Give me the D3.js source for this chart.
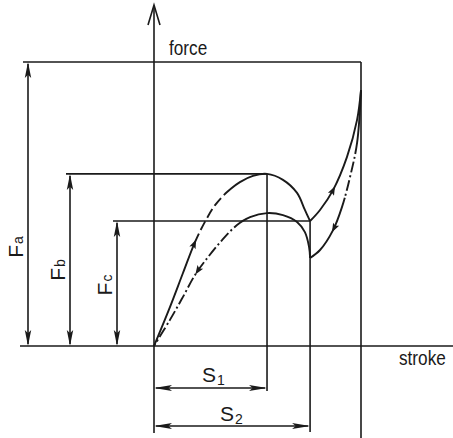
<!DOCTYPE html>
<html>
<head>
<meta charset="utf-8">
<script src="https://cdn.jsdelivr.net/npm/d3@7"></script>
<style>
  body { margin: 0; background: #fff; }
  svg { display: block; background: #fff; }
  text { font-family: "Liberation Sans", Arial, Helvetica, sans-serif; fill: #1a1a1a; }
</style>
</head>
<body>
<div id="chart"></div>
<script>
// stroke marks, in % of full stroke
const strokeLabels = ['S1', 'S2'];
const strokeValues = [54.6, 75.4];
const strokeMax = 100;

// force marks, in % of Fa
const forceLabels = ['Fa', 'Fb', 'Fc'];
const forceValues = [100, 60.6, 44.0];

// loading curve: rise to peak Fb at S1, drop to Fc at S2
const loadRise = [[0,0],[7.7,13.7],[14.0,25.7],[19.8,36.6],[24.6,43.7],[29.5,49.6],[35.3,54.2],
  [41.5,57.7],[47.8,59.9],[54.6,60.6],[62.3,58.5],[69.1,53.9],[72.9,47.9],[75.4,44.0]];
// loading curve after S2, up to the end stop
const loadEnd = [[75.4,44.0],[80.2,47.9],[86.5,54.9],[93.2,66.5],[98.1,79.6],[100,90.1]];
// unloading curve: from the end stop down to S2
const unloadEnd = [[100,90.1],[98.1,71.5],[94.7,59.5],[90.8,48.9],[86.5,40.8],[80.2,33.8],[75.4,31.0]];
// unloading curve: from S2 back over the lower peak to zero
const unloadBack = [[75.4,31.0],[74.9,34.9],[72.9,40.1],[69.1,43.7],[62.3,46.1],[54.6,46.8],[46.4,45.4],
  [40.1,42.6],[32.9,37.3],[26.1,31.3],[19.8,25.0],[14.0,17.3],[7.7,9.2],[0,0]];

const W = 453, H = 438;
const ink = '#1a1a1a';

const svg = d3.select('#chart').append('svg')
  .attr('width', W)
  .attr('height', H);

const x = d3.scaleLinear().domain([0, strokeMax]).range([154, 361]);
const y = d3.scaleLinear().domain([0, 100]).range([346, 62]);

const [S1, S2] = strokeValues;
const [Fa, Fb, Fc] = forceValues;

function hline(yy, x1, x2) {
  svg.append('line').attr('x1', x1).attr('x2', x2).attr('y1', yy).attr('y2', yy)
    .attr('stroke', ink).attr('stroke-width', 1.6);
}
function vline(xx, y1, y2) {
  svg.append('line').attr('x1', xx).attr('x2', xx).attr('y1', y1).attr('y2', y2)
    .attr('stroke', ink).attr('stroke-width', 1.6);
}

// arrow head, tip at (px,py) pointing along angle a
function head(px, py, a, len, hw) {
  svg.append('path')
    .attr('d', `M0,0 L${-len},${-hw} L${-len * 0.8},0 L${-len},${hw} Z`)
    .attr('transform', `translate(${px},${py}) rotate(${a * 180 / Math.PI})`)
    .attr('fill', ink);
}

// frame and extension lines
hline(y(0), 20, W);
hline(y(Fa), 23, x(strokeMax));
hline(y(Fb), 66, x(S1));
hline(y(Fc), 113, x(S2));
vline(x(strokeMax), y(Fa), H);
vline(x(S1), y(Fb), 391);
vline(x(S2), y(Fc), 432);
vline(x(0), 433, 6);

// force axis arrow (open)
svg.append('path')
  .attr('d', `M${x(0) - 6},25 L${x(0)},5 L${x(0) + 6},25`)
  .attr('fill', 'none').attr('stroke', ink).attr('stroke-width', 1.6);

// force dimension lines
const forceDimX = [28, 70, 117];
forceValues.forEach((f, i) => {
  const xx = forceDimX[i];
  vline(xx, y(f) + 2, y(0) - 2);
  head(xx, y(f), -Math.PI / 2, 16, 3.2);
  head(xx, y(0), Math.PI / 2, 16, 3.2);
});

// stroke dimension lines
const strokeDimY = [388, 426];
strokeValues.forEach((s, i) => {
  const yy = strokeDimY[i];
  hline(yy, x(0) + 2, x(s) - 2);
  head(x(0), yy, Math.PI, 18, 3);
  head(x(s), yy, 0, 18, 3);
});

// labels (the original lettering is a narrow grotesque)
svg.append('text').attr('transform', 'translate(169,55) scale(0.86,1)').attr('font-size', 20).text('force');
svg.append('text').attr('transform', 'translate(399,365) scale(0.86,1)').attr('font-size', 20).text('stroke');

const forceLabelPos = [[23, 247], [65, 270], [112, 285]];
forceLabels.forEach((lab, i) => {
  const t = svg.append('text')
    .attr('transform', `translate(${forceLabelPos[i][0]},${forceLabelPos[i][1]}) rotate(-90)`)
    .attr('text-anchor', 'middle')
    .attr('font-size', 21);
  t.append('tspan').text(lab[0]);
  t.append('tspan').attr('font-size', 14).attr('dx', 1).text(lab.slice(1));
});

const strokeLabelPos = [[202, 382], [220, 421]];
strokeLabels.forEach((lab, i) => {
  const t = svg.append('text')
    .attr('x', strokeLabelPos[i][0]).attr('y', strokeLabelPos[i][1])
    .attr('font-size', 21);
  t.append('tspan').text(lab[0]);
  t.append('tspan').attr('font-size', 14).attr('dx', 1).attr('dy', 3).text(lab.slice(1));
});

// curves
const line = d3.line()
  .x(d => x(d[0]))
  .y(d => y(d[1]))
  .curve(d3.curveCatmullRom.alpha(0.5));

// length along path where it crosses a stroke value
function lenAt(node, sv) {
  const total = node.getTotalLength();
  const px = x(sv);
  let best = 0, bestD = Infinity;
  for (let l = 0; l <= total; l += 0.5) {
    const d = Math.abs(node.getPointAtLength(l).x - px);
    if (d < bestD) { bestD = d; best = l; }
  }
  return best;
}

function dashArray(parts) {
  const out = [];
  parts.forEach(p => {
    const span = p[1] - p[0];
    if (!p[2]) { out.push(span, 0); return; }
    let used = 0, i = 0;
    while (used < span - 0.01) {
      const seg = Math.min(p[2][i % p[2].length], span - used);
      out.push(seg); used += seg; i++;
    }
    if (i % 2) out.push(0);
  });
  return out.join(',');
}

const dashed = [0, 4, 10, 0];
const dashDot = [11, 3, 2, 3];

// draw a curve; breaks: stroke values where style changes, styles: pattern per piece
function curve(data, breaks, styles, arrowsAt) {
  const p = svg.append('path')
    .attr('d', line(data))
    .attr('fill', 'none')
    .attr('stroke', ink)
    .attr('stroke-width', 1.9);
  const node = p.node();
  const total = node.getTotalLength();
  const cuts = [0].concat(breaks.map(b => lenAt(node, b)), [total]);
  const parts = styles.map((s, i) => [cuts[i], cuts[i + 1], s]);
  p.attr('stroke-dasharray', dashArray(parts));
  arrowsAt.forEach(sv => {
    const l = lenAt(node, sv);
    const a = node.getPointAtLength(l);
    const b = node.getPointAtLength(Math.max(0, l - 3));
    head(a.x, a.y, Math.atan2(a.y - b.y, a.x - b.x), 9, 3.4);
  });
}

curve(loadRise, [21.7, 37.2], [null, dashed, null], [20.3]);
curve(loadEnd, [], [null], [87.4]);
curve(unloadEnd, [98.1, 92.2], [null, dashDot, null], [86.0]);
curve(unloadBack, [43.0], [null, dashDot], [20.0]);
</script>
</body>
</html>
